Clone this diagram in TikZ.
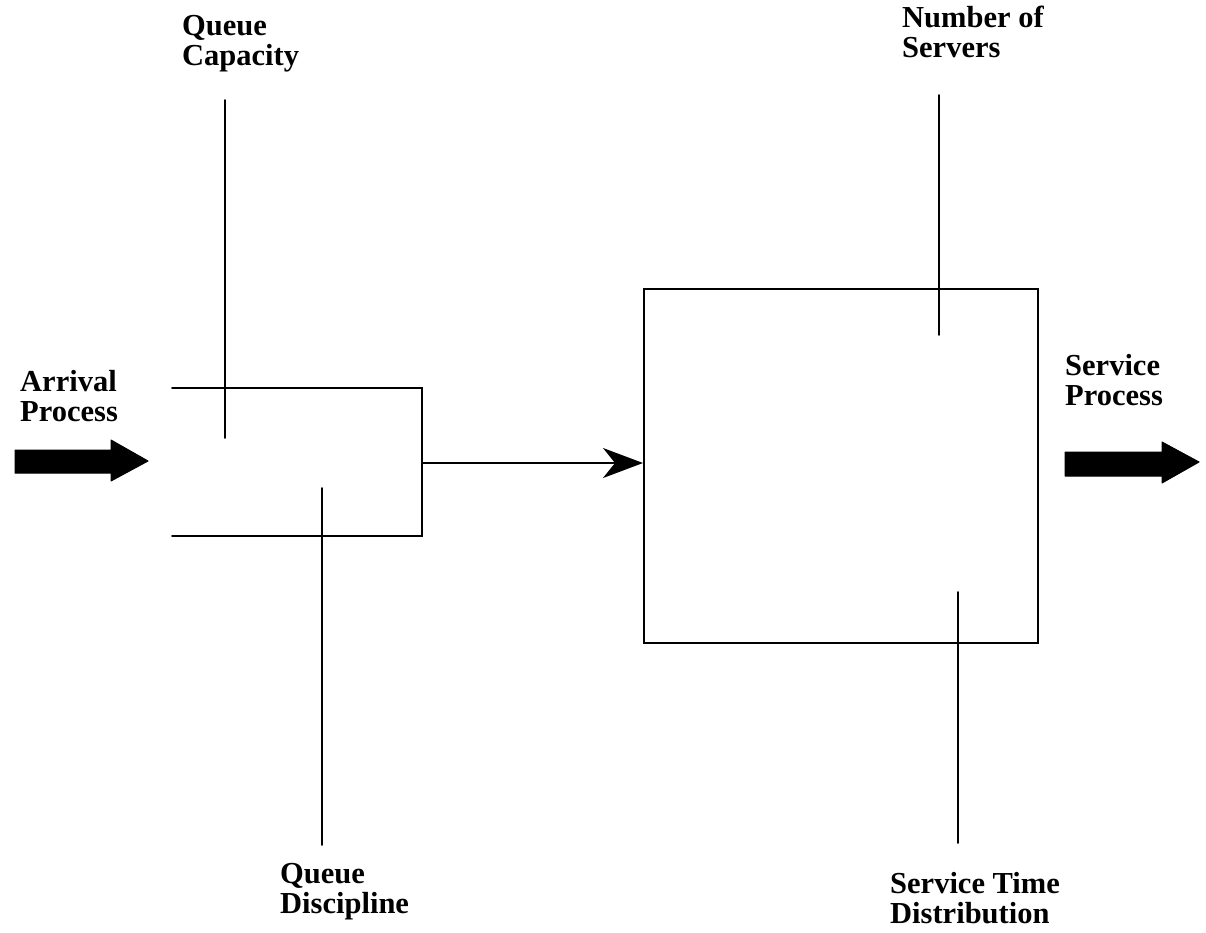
\documentclass[tikz,border=0pt]{standalone}
\usepackage{fontspec}
\setmainfont{Liberation Serif}
\usetikzlibrary{arrows.meta}
\tikzset{
  wire/.style={line width=1.9pt, line cap=round},
  lbl/.style={font=\bfseries\fontsize{30.5}{29.5}\selectfont, align=left, inner sep=0pt, anchor=base west},
  blockarrow/.style={fill=black, draw=black, line width=1pt, line join=round},
}
\begin{document}
\begin{tikzpicture}[x=1pt,y=-1pt]
  \useasboundingbox (0,0) rectangle (1206,932);

  % queue (open on the left)
  \coordinate (qtl) at (172,388);
  \coordinate (qtr) at (422,388);
  \coordinate (qbr) at (422,536);
  \coordinate (qbl) at (172,536);
  \coordinate (qout) at (422,463);
  \draw[wire] (qtl) -- (qtr) -- (qbr) -- (qbl);

  % server
  \node[draw, wire, minimum width=394pt, minimum height=354pt, inner sep=0pt,
        anchor=north west] (server) at (643,288) {};

  % flow from queue to server
  \draw[wire, -{Stealth[length=40pt, width=30pt, inset=12pt]}] (qout) -- (qout -| server.west);

  % labels (anchored on the baseline of their last line)
  \node[lbl] (qcap) at (182,65) {Queue\\Capacity};
  \node[lbl] (qdisc) at (280,913) {Queue\\Discipline};
  \node[lbl] (nserv) at (902,57) {Number of\\Servers};
  \node[lbl] (stime) at (890,923) {Service Time\\Distribution};
  \node[lbl] (arr) at (20,421) {Arrival\\Process};
  \node[lbl] (sproc) at (1065,405) {Service\\Process};

  % leader lines from labels
  \coordinate (qcapA) at (225,100);
  \coordinate (qcapB) at (225,438);
  \coordinate (qdiscA) at (322,488);
  \coordinate (qdiscB) at (322,845);
  \coordinate (nservA) at (939,95);
  \coordinate (nservB) at (939,335);
  \coordinate (stimeA) at (958,592);
  \coordinate (stimeB) at (958,843);
  \draw[wire] (qcapA) -- (qcapB);
  \draw[wire] (qdiscA) -- (qdiscB);
  \draw[wire] (nservA) -- (nservB);
  \draw[wire] (stimeA) -- (stimeB);

  % arrival and departure block arrows
  \draw[blockarrow] (15,450) -- (111,450) -- (111,440) -- (148,461)
        -- (111,481) -- (111,473) -- (15,473) -- cycle;
  \draw[blockarrow] (1065,452) -- (1162,452) -- (1162,442) -- (1199,462)
        -- (1162,483) -- (1162,476) -- (1065,476) -- cycle;
\end{tikzpicture}
\end{document}
